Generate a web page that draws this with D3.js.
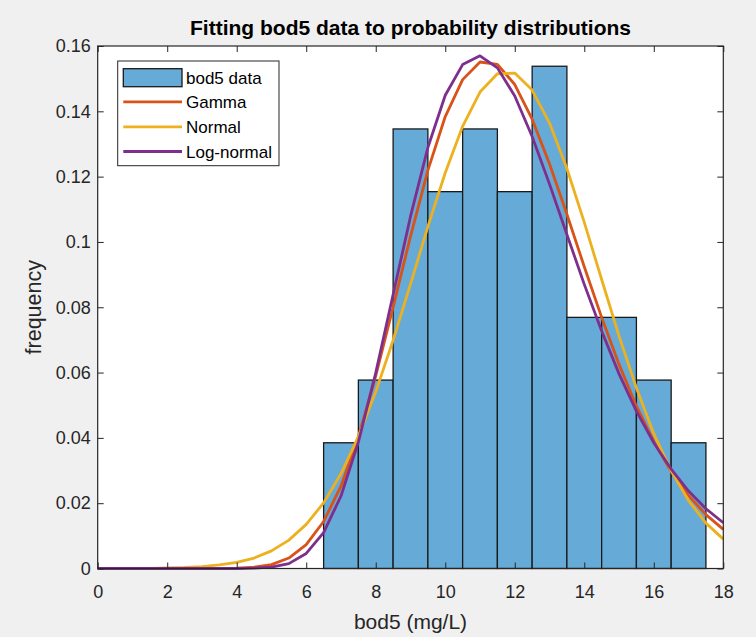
<!DOCTYPE html>
<html><head><meta charset="utf-8">
<script src="https://cdn.jsdelivr.net/npm/d3@7"></script>
<style>
html,body{margin:0;padding:0;background:#f0f0f0;}
svg{display:block;font-family:"Liberation Sans",Arial,Helvetica,sans-serif;}
</style></head>
<body>
<svg id="chart" width="756" height="637"></svg>
<script>
// ---- data ----
const binEdges = [6.5,7.5,8.5,9.5,10.5,11.5,12.5,13.5,14.5,15.5,16.5,17.5];
const binFreq  = [0.0385,0.0577,0.1346,0.1154,0.1346,0.1154,0.1538,0.0769,0.0769,0.0577,0.0385];
const curveX = [0,0.5,1,1.5,2,2.5,3,3.5,4,4.5,5,5.5,6,6.5,7,7.5,8,8.5,9,9.5,10,10.5,11,11.5,12,12.5,13,13.5,14,14.5,15,15.5,16,16.5,17,17.5,18];
const gammaY = [0,0,0,0,0,0,0,0.00001,0.0001,0.0004,0.0012,0.0032,0.0073,0.0144,0.0252,0.0403,0.0590,0.0800,0.1017,0.1219,0.1384,0.1497,0.1551,0.1544,0.1482,0.1376,0.1239,0.1085,0.0924,0.0769,0.0625,0.0497,0.0389,0.0297,0.0223,0.0165,0.0120];
const normalY = [0,0,0.00002,0.00004,0.00015,0.0003,0.0006,0.0011,0.0019,0.0032,0.0054,0.0087,0.0135,0.0201,0.0290,0.0404,0.0541,0.0699,0.0871,0.1047,0.1212,0.1354,0.1459,0.1515,0.1517,0.1465,0.1364,0.1225,0.1060,0.0885,0.0712,0.0553,0.0413,0.0299,0.0208,0.0139,0.0090];
const lognY = [0,0,0,0,0,0,0,0,0,0.0001,0.0004,0.0015,0.0046,0.0110,0.0222,0.0387,0.0599,0.0839,0.1078,0.1289,0.1449,0.1543,0.1570,0.1533,0.1447,0.1323,0.1177,0.1023,0.0870,0.0727,0.0596,0.0482,0.0385,0.0304,0.0237,0.0183,0.0140];
const xTicks = [0,2,4,6,8,10,12,14,16,18];
const yTicks = [0,0.02,0.04,0.06,0.08,0.1,0.12,0.14,0.16];
const seriesNames = ["bod5 data","Gamma","Normal","Log-normal"];
const titleText = "Fitting bod5 data to probability distributions";
const xLabel = "bod5 (mg/L)";
const yLabel = "frequency";

// ---- layout ----
const L = 97.7, R = 723.3, T = 46, B = 568.5;
const axisCol = "#262626";
const colors = {bar:"#66aad7", gamma:"#d95319", normal:"#edb120", logn:"#7e2f8e"};

const svg = d3.select("#chart");
const x = d3.scaleLinear().domain([0,18]).range([L,R]);
const y = d3.scaleLinear().domain([0,0.16]).range([B,T]);

svg.append("rect").attr("x",L).attr("y",T).attr("width",R-L).attr("height",B-T).attr("fill","#fff");

const plot = svg.append("g");
plot.selectAll("rect.bar").data(binFreq).join("rect").attr("class","bar")
  .attr("x",(d,i)=>x(binEdges[i])).attr("width",(d,i)=>x(binEdges[i+1])-x(binEdges[i]))
  .attr("y",d=>y(d)).attr("height",d=>y(0)-y(d))
  .attr("fill",colors.bar).attr("stroke","#1a1a1a").attr("stroke-width",1.3);

const line = d3.line().x(d=>x(d[0])).y(d=>y(d[1]));
const curves = [[gammaY,colors.gamma],[normalY,colors.normal],[lognY,colors.logn]];
curves.forEach(([ys,c])=>{
  plot.append("path").datum(curveX.map((v,i)=>[v,ys[i]])).attr("d",line)
    .attr("fill","none").attr("stroke",c).attr("stroke-width",2.8).attr("stroke-linejoin","round");
});

// axes
const tickLen = 6;
const fs = 18;
const xb = d3.axisBottom(x).tickValues(xTicks).tickSize(-tickLen).tickPadding(17).tickFormat(d3.format("d"));
const xt = d3.axisTop(x).tickValues(xTicks).tickSize(-tickLen).tickFormat("");
const yl = d3.axisLeft(y).tickValues(yTicks).tickSize(-tickLen).tickPadding(7).tickFormat(d=>d===0?"0":String(+d.toFixed(2)));
const yr = d3.axisRight(y).tickValues(yTicks).tickSize(-tickLen).tickFormat("");
function style(g){
  g.selectAll(".tick line").attr("stroke",axisCol).attr("stroke-width",1);
  g.selectAll(".tick text").attr("fill",axisCol).style("font-size",fs+"px").style("font-family","Liberation Sans, Arial, sans-serif");
}
svg.append("g").attr("transform",`translate(0,${B})`).call(xb).call(style);
svg.append("g").attr("transform",`translate(0,${T})`).call(xt).call(style);
svg.append("g").attr("transform",`translate(${L},0)`).call(yl).call(style);
svg.append("g").attr("transform",`translate(${R},0)`).call(yr).call(style);
svg.selectAll(".domain").remove();
svg.append("rect").attr("x",L).attr("y",T).attr("width",R-L).attr("height",B-T)
  .attr("fill","none").attr("stroke",axisCol).attr("stroke-width",1.2);

// title and labels
svg.append("text").attr("x",(L+R)/2).attr("y",35).attr("text-anchor","middle")
  .style("font-weight","bold").style("font-size","21px").attr("fill","#000").text(titleText);
svg.append("text").attr("x",(L+R)/2).attr("y",629).attr("text-anchor","middle")
  .style("font-size","21px").attr("fill",axisCol).text(xLabel);
svg.append("text").attr("transform",`translate(41,${(T+B)/2}) rotate(-90)`).attr("text-anchor","middle")
  .style("font-size","21.5px").attr("fill",axisCol).text(yLabel);

// legend
const lg = svg.append("g");
lg.append("rect").attr("x",117.7).attr("y",61).attr("width",161.3).attr("height",104.7)
  .attr("fill","#fff").attr("stroke",axisCol).attr("stroke-width",1);
const rowY = [77.7,101.9,126.9,151.5];
seriesNames.forEach((n,i)=>{
  if(i===0){
    lg.append("rect").attr("x",123.3).attr("y",rowY[i]-9).attr("width",58.7).attr("height",18)
      .attr("fill",colors.bar).attr("stroke","#1a1a1a").attr("stroke-width",1.3);
  } else {
    const c = [colors.gamma,colors.normal,colors.logn][i-1];
    lg.append("line").attr("x1",123.3).attr("x2",182).attr("y1",rowY[i]).attr("y2",rowY[i])
      .attr("stroke",c).attr("stroke-width",2.8);
  }
  lg.append("text").attr("x",186).attr("y",rowY[i]).attr("dy","0.36em")
    .style("font-size","17px").attr("fill","#000").text(n);
});
</script>
</body></html>
